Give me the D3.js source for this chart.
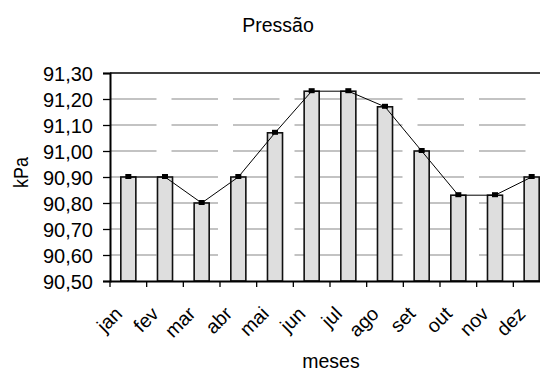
<!DOCTYPE html>
<html><head><meta charset="utf-8">
<script src="https://cdn.jsdelivr.net/npm/d3@7"></script>
<style>
html,body{margin:0;padding:0;background:#fff;}
svg{display:block;}
text{font-family:"Liberation Sans",Arial,sans-serif;fill:#000;}
</style></head>
<body>
<script>
const months = ["jan","fev","mar","abr","mai","jun","jul","ago","set","out","nov","dez"];
const pressure = [90.90,90.90,90.80,90.90,91.07,91.23,91.23,91.17,91.00,90.83,90.83,90.90];
const yTicks = [90.5,90.6,90.7,90.8,90.9,91.0,91.1,91.2,91.3];
const titleText = "Pressão";
const xTitle = "meses";
const yTitle = "kPa";

const W = 540, H = 373;
const mLeft = 110, mTop = 73, mRight = 550, mBottom = 281;

const svg = d3.select("body").append("svg").attr("width", W).attr("height", H);

const x = d3.scaleBand().domain(months).range([mLeft, mRight]).padding(0);
const y = d3.scaleLinear().domain([90.5, 91.3]).range([mBottom, mTop]);
const fmt = v => d3.format(".2f")(v).replace(".", ",");

// gridlines
svg.append("g").selectAll("line").data(yTicks.filter(v => v > 90.5 && v < 91.3)).join("line")
  .attr("x1", mLeft).attr("x2", mRight)
  .attr("y1", d => y(d)).attr("y2", d => y(d))
  .attr("stroke", "#b0b0b0").attr("stroke-width", 1.4)
  .attr("stroke-dasharray", "46.5,15");

// plot border top
svg.append("line").attr("x1", mLeft).attr("x2", mRight).attr("y1", mTop).attr("y2", mTop)
  .attr("stroke", "#000").attr("stroke-width", 1.5);

// bars
const bw = x.bandwidth() * 0.41;
svg.append("g").selectAll("rect").data(pressure).join("rect")
  .attr("x", (d, i) => x(months[i]) + x.bandwidth() / 2 - bw / 2)
  .attr("y", d => y(d))
  .attr("width", bw)
  .attr("height", d => y(90.5) - y(d))
  .attr("fill", "#dedede")
  .attr("stroke", "#111").attr("stroke-width", 1.6);

// y axis
const yAxis = svg.append("g").attr("transform", `translate(${mLeft},0)`)
  .call(d3.axisLeft(y).tickValues(yTicks).tickFormat(fmt).tickSize(7).tickPadding(10));
yAxis.select(".domain").attr("stroke", "#000").attr("stroke-width", 2);
yAxis.selectAll(".tick line").attr("stroke", "#000").attr("stroke-width", 1.3);
yAxis.selectAll("text").style("font-size", "20px").attr("dy", "0.36em")
  .style("font-family", "'Liberation Sans',Arial,sans-serif");

// x axis
const xAxis = svg.append("g").attr("transform", `translate(0,${mBottom})`)
  .call(d3.axisBottom(x).tickSize(0).tickFormat(""));
xAxis.select(".domain").attr("stroke", "#000").attr("stroke-width", 2);
xAxis.selectAll(".tick").remove();
// boundary ticks
svg.append("g").selectAll("line").data(months).join("line")
  .attr("x1", d => x(d)).attr("x2", d => x(d))
  .attr("y1", mBottom).attr("y2", mBottom + 6)
  .attr("stroke", "#000").attr("stroke-width", 1.3);

// x labels
svg.append("g").selectAll("text").data(months).join("text")
  .attr("transform", d => `translate(${x(d) + x.bandwidth() / 2 - 5},315) rotate(-45)`)
  .attr("text-anchor", "end")
  .style("font-size", "19.5px")
  .text(d => d);

// line
const pts = pressure.map((v, i) => [x(months[i]) + x.bandwidth() / 2, y(v)]);
svg.append("path").datum(pts)
  .attr("d", d3.line())
  .attr("fill", "none").attr("stroke", "#000").attr("stroke-width", 1);
svg.append("g").selectAll("rect").data(pts).join("rect")
  .attr("x", d => d[0] - 3).attr("y", d => d[1] - 3)
  .attr("width", 6).attr("height", 5).attr("fill", "#000");

// titles
svg.append("text").attr("x", 278).attr("y", 32).attr("text-anchor", "middle")
  .style("font-size", "19.5px").text(titleText);
svg.append("text").attr("x", 331).attr("y", 368).attr("text-anchor", "middle")
  .style("font-size", "19.5px").text(xTitle);
svg.append("text").attr("transform", "translate(28,172.5) rotate(-90)")
  .attr("text-anchor", "middle").style("font-size", "20px")
  .attr("textLength", 31).attr("lengthAdjust", "spacingAndGlyphs").text(yTitle);
</script>
</body></html>
